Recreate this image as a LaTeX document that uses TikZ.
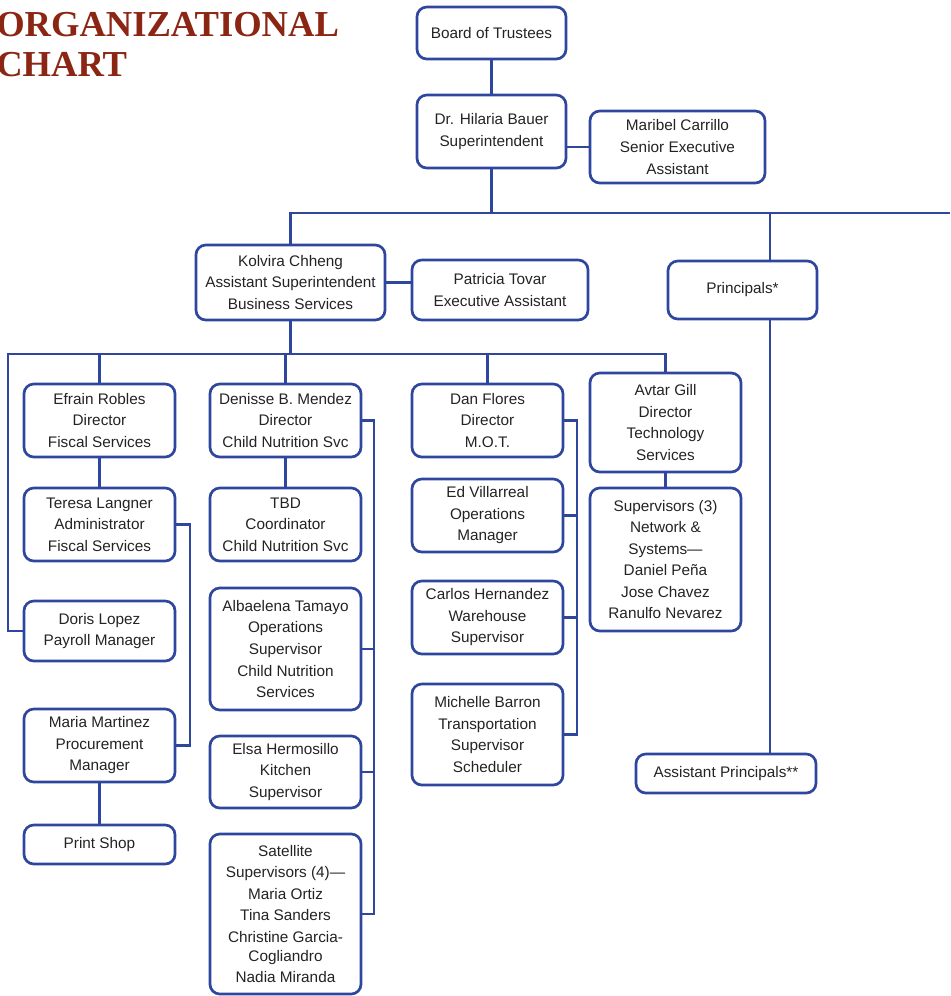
\documentclass[tikz,border=0pt]{standalone}
\usepackage{fontspec}
\setmainfont{Liberation Sans}
\newfontfamily\titlefont{Liberation Serif}
\definecolor{chartblue}{RGB}{46,70,158}
\definecolor{chartred}{RGB}{140,38,20}
\definecolor{ink}{RGB}{35,35,35}
\tikzset{%
	post/.style={
		rectangle,
		draw=chartblue,
		line width=1.9pt,
		rounded corners=7pt,
		align=center,
		inner sep=0pt,
		text=ink,
		font=\fontsize{10.9}{15.3}\selectfont,
		minimum width=3.775cm,
		minimum height=#1
	},
	post/.default=1.825cm,
	link/.style={ draw=chartblue, line width=1.9pt },
	heading/.style={
		anchor=base west,
		inner sep=0pt,
		text=chartred,
		font=\titlefont\bfseries\fontsize{26}{28}\selectfont
	},
}

\begin{document}
\begin{tikzpicture}[x=0.025cm, y=-0.025cm]
\useasboundingbox (0,0) rectangle (950,996);

% title
\node[heading] (title-1) at (-4,36) {ORGANIZATIONAL};
\node[heading] (title-2) at (-4,76) {CHART};

% top of the chart
\node[post=1.3cm, minimum width=3.725cm] (board) at (491.5,33) {Board of Trustees};
\node[post, minimum width=3.725cm] (supt) at (491.5,131.5) {Dr. Hilaria Bauer\\Superintendent};
\node[post=1.8cm, minimum width=4.375cm] (maribel) at (677.5,147) {Maribel Carrillo\\Senior Executive\\Assistant};
\node[post=1.875cm, minimum width=4.725cm] (kolvira) at (290.5,282.5) {Kolvira Chheng\\Assistant Superintendent\\Business Services};
\node[post=1.5cm, minimum width=4.4cm] (patricia) at (500,290) {Patricia Tovar\\Executive Assistant};
\node[post=1.45cm, minimum width=3.725cm] (principals) at (742.5,290) {Principals*};
\node[post=0.975cm, minimum width=4.5cm] (asst-principals) at (726,773.5) {Assistant Principals**};

% fiscal services
\node[post] (efrain) at (99.5,420.5) {Efrain Robles\\Director\\Fiscal Services};
\node[post] (teresa) at (99.5,524.5) {Teresa Langner\\Administrator\\Fiscal Services};
\node[post=1.5cm] (doris) at (99.5,631) {Doris Lopez\\Payroll Manager};
\node[post] (maria) at (99.5,745.5) {Maria Martinez\\Procurement\\Manager};
\node[post=0.975cm] (print) at (99.5,844.5) {Print Shop};

% child nutrition
\node[post] (denisse) at (285.5,420.5) {Denisse B. Mendez\\Director\\Child Nutrition Svc};
\node[post] (tbd) at (285.5,524.5) {TBD\\Coordinator\\Child Nutrition Svc};
\node[post=3.05cm] (albaelena) at (285.5,649) {Albaelena Tamayo\\Operations\\Supervisor\\Child Nutrition\\Services};
\node[post=1.8cm] (elsa) at (285.5,772) {Elsa Hermosillo\\Kitchen\\Supervisor};
\node[post=4cm] (satellite) at (285.5,914) {Satellite\\Supervisors (4)—\\Maria Ortiz\\Tina Sanders\\Christine Garcia-\\[-2pt]Cogliandro\\Nadia Miranda};

% M.O.T.
\node[post] (dan) at (487.5,420.5) {Dan Flores\\Director\\M.O.T.};
\node[post] (ed) at (487.5,515.5) {Ed Villarreal\\Operations\\Manager};
\node[post] (carlos) at (487.5,617.5) {Carlos Hernandez\\Warehouse\\Supervisor};
\node[post=2.525cm] (michelle) at (487.5,734.5) {Michelle Barron\\Transportation\\Supervisor\\Scheduler};

% technology
\node[post=2.475cm] (avtar) at (665.5,422.5) {Avtar Gill\\Director\\Technology\\Services};
\node[post=3.575cm] (supervisors) at (665.5,559.5) {Supervisors (3)\\Network \&\\Systems—\\Daniel Peña\\Jose Chavez\\Ranulfo Nevarez};

% connections
\coordinate (bus-top) at (950,213);
\coordinate (bus-mid) at (0,354);
\coordinate (drop-principals) at (770,0);
\coordinate (drop-payroll) at (8,0);
\coordinate (trunk-fiscal) at (190,0);
\coordinate (trunk-nutrition) at (374,0);
\coordinate (trunk-mot) at (577,0);

\draw[link] (board) -- (supt);
\draw[link] (maribel.west) -- (maribel.west -| supt.east);
\draw[link] (supt) -- (supt |- bus-top);
\draw[link] (kolvira) -- (kolvira |- bus-top) -- (bus-top);
\draw[link] (principals.north -| drop-principals) -- (drop-principals |- bus-top);
\draw[link] (principals.south -| drop-principals) -- (asst-principals.north -| drop-principals);
\draw[link] (kolvira.east) -- (kolvira.east -| patricia.west);
\draw[link] (kolvira) -- (kolvira |- bus-mid);
\draw[link] (doris.west) -| (drop-payroll |- bus-mid) -- (avtar.north |- bus-mid) -- (avtar.north);
\foreach \n in {efrain, denisse, dan}
	\draw[link] (\n.north) -- (\n.north |- bus-mid);
\foreach \a/\b in {efrain/teresa, maria/print, denisse/tbd, avtar/supervisors}
	\draw[link] (\a) -- (\b);
\draw[link] (teresa.east) -- (teresa.east -| trunk-fiscal) |- (maria.east);
\draw[link] (denisse.east) -- (denisse.east -| trunk-nutrition) |- (satellite.east);
\foreach \n in {albaelena, elsa}
	\draw[link] (\n.east) -- (\n.east -| trunk-nutrition);
\draw[link] (dan.east) -- (dan.east -| trunk-mot) |- (michelle.east);
\foreach \n in {ed, carlos}
	\draw[link] (\n.east) -- (\n.east -| trunk-mot);

\end{tikzpicture}
\end{document}
